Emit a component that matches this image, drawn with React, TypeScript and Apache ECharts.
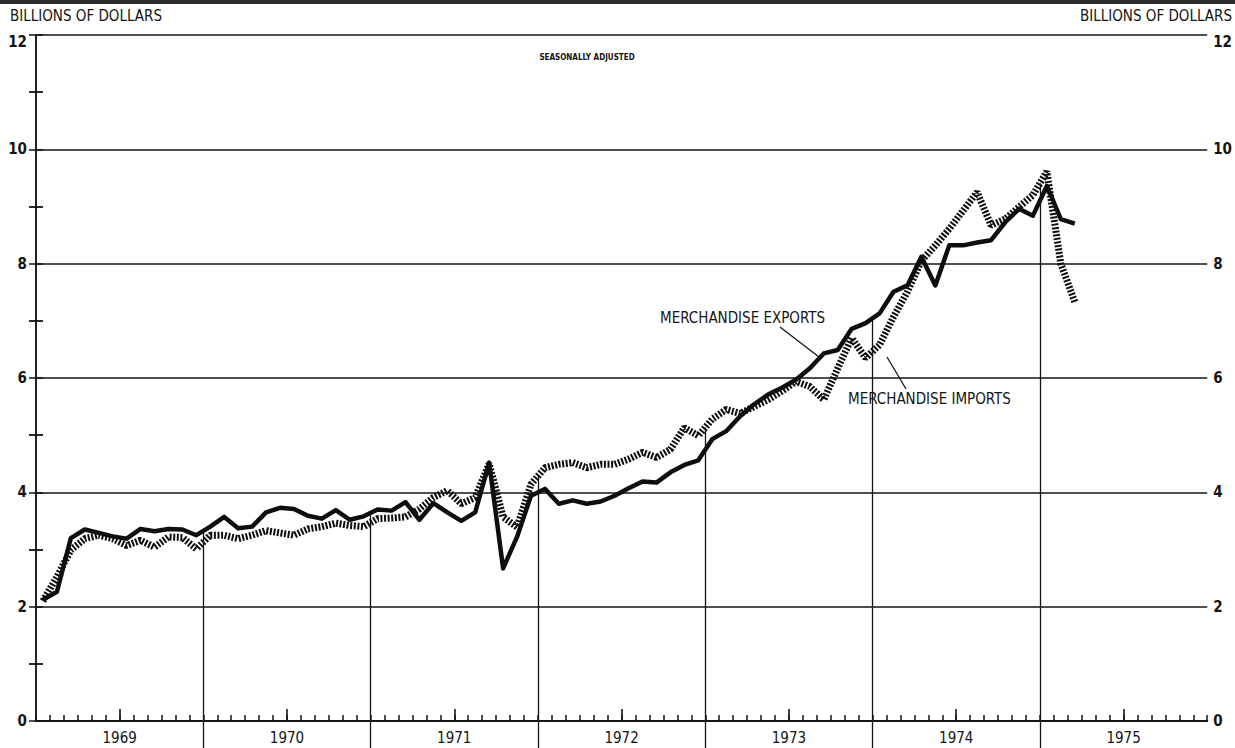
import React, { useEffect, useRef } from "react";
import * as echarts from "echarts";

// Monthly values, Jan 1969 – Mar 1975 (billions of dollars, seasonally adjusted)
const years = ["1969", "1970", "1971", "1972", "1973", "1974", "1975"];

const exportsValues = [
  2.12, 2.26, 3.2, 3.35, 3.29, 3.23, 3.19, 3.36, 3.32, 3.36, 3.35, 3.25,
  3.4, 3.57, 3.37, 3.4, 3.65, 3.73, 3.71, 3.59, 3.54, 3.69, 3.52, 3.58,
  3.7, 3.68, 3.83, 3.52, 3.81, 3.65, 3.5, 3.65, 4.52, 2.67, 3.22, 3.94,
  4.06, 3.8, 3.86, 3.8, 3.84, 3.94, 4.07, 4.19, 4.17, 4.35, 4.48, 4.56,
  4.93, 5.07, 5.33, 5.54, 5.71, 5.83, 5.97, 6.17, 6.43, 6.49, 6.86, 6.96,
  7.13, 7.51, 7.62, 8.12, 7.62, 8.32, 8.32, 8.37, 8.41, 8.72, 8.96, 8.84,
  9.36, 8.78, 8.7,
];

const importsValues = [
  2.1, 2.52, 2.99, 3.19, 3.25, 3.19, 3.07, 3.16, 3.04, 3.22, 3.21, 3.01,
  3.25, 3.25, 3.19, 3.25, 3.33, 3.29, 3.25, 3.36, 3.4, 3.46, 3.42, 3.4,
  3.54, 3.55, 3.57, 3.71, 3.91, 4.03, 3.8, 3.91, 4.5, 3.57, 3.39, 4.14,
  4.43, 4.49, 4.52, 4.43, 4.49, 4.49, 4.58, 4.7, 4.61, 4.75, 5.13, 4.99,
  5.28, 5.45, 5.38, 5.5, 5.62, 5.77, 5.94, 5.85, 5.62, 6.17, 6.7, 6.35,
  6.58, 7.07, 7.51, 8.05, 8.32, 8.61, 8.93, 9.25, 8.67, 8.78, 8.99, 9.2,
  9.61, 8.0, 7.33,
];

const yMin = 0;
const yMax = 12;
const yStep = 2;

const FONT = "'DejaVu Sans Condensed', 'DejaVu Sans', sans-serif";
const INK = "#141414";

export default function App() {
  const ref = useRef<HTMLDivElement>(null);

  useEffect(() => {
    if (!ref.current) return;
    const chart = echarts.init(ref.current, null, { renderer: "svg" });

    const months = years.length * 12;
    const toPts = (arr: number[]) => arr.map((v, i) => [i + 0.5, v]);

    const midYears = years.map((_, k) => k * 12 + 6);
    const boundaries = years.map((_, k) => (k + 1) * 12).filter((b) => b < months);

    const sepLines = boundaries
      .filter((b) => b < exportsValues.length)
      .map((b) => {
        const e = (exportsValues[b - 1] + exportsValues[b]) / 2;
        const m = (importsValues[b - 1] + importsValues[b]) / 2;
        const top = Math.max(e, m);
        return [{ coord: [b, 0] }, { coord: [b, top] }];
      });

    const yLabel = (side: "l" | "r") => ({
      fontFamily: FONT,
      fontSize: 15,
      fontWeight: "bold",
      color: INK,
      margin: side === "l" ? 9 : 6,
      formatter: (v: number) => (v === yMax ? `{t|${v}}` : `${v}`),
      rich: {
        t: { fontFamily: FONT, fontSize: 15, fontWeight: "bold", color: INK, padding: [14, 0, 0, 0] },
      },
    });

    const option: any = {
      animation: false,
      backgroundColor: "#ffffff",
      grid: { left: 36, right: 27, top: 35, bottom: 27, containLabel: false },
      xAxis: [
        {
          type: "value",
          min: 0,
          max: months,
          interval: 1,
          position: "bottom",
          axisLine: { show: true, lineStyle: { color: INK, width: 2.2 } },
          axisTick: { show: true, inside: true, length: 6, lineStyle: { color: INK, width: 1.5 } },
          axisLabel: {
            show: true,
            customValues: midYears,
            formatter: (v: number) => (v % 12 === 6 ? years[(v - 6) / 12] : ""),
            fontFamily: FONT,
            fontSize: 15,
            color: INK,
            margin: 9,
          },
          splitLine: { show: false },
        },
        {
          type: "value",
          min: 0,
          max: months,
          interval: 6,
          position: "bottom",
          axisLine: { show: false },
          axisTick: { show: true, inside: true, length: 12, customValues: midYears, lineStyle: { color: INK, width: 1.6 } },
          axisLabel: { show: false },
          splitLine: { show: false },
        },
        {
          type: "value",
          min: 0,
          max: months,
          interval: 12,
          position: "bottom",
          axisLine: { show: false },
          axisTick: { show: true, inside: false, length: 28, customValues: boundaries, lineStyle: { color: INK, width: 1.3 } },
          axisLabel: { show: false },
          splitLine: { show: false },
        },
      ],
      yAxis: [
        {
          type: "value",
          min: yMin,
          max: yMax,
          interval: yStep,
          position: "left",
          axisLine: { show: true, lineStyle: { color: INK, width: 1.5 } },
          axisTick: { show: true, inside: true, length: 7, lineStyle: { color: INK, width: 1.5 } },
          minorTick: { show: true, splitNumber: 2, length: 7, lineStyle: { color: INK, width: 1.8 } },
          axisLabel: yLabel("l"),
          splitLine: { show: true, lineStyle: { color: INK, width: 1.6 } },
        },
        {
          type: "value",
          min: yMin,
          max: yMax,
          interval: yStep,
          position: "right",
          axisLine: { show: true, lineStyle: { color: INK, width: 1.5 } },
          axisTick: { show: true, inside: true, length: 7, lineStyle: { color: INK, width: 1.5 } },
          minorTick: { show: true, splitNumber: 2, length: 7, lineStyle: { color: INK, width: 1.8 } },
          axisLabel: yLabel("r"),
          splitLine: { show: false },
        },
      ],
      series: [
        {
          name: "Merchandise imports",
          type: "line",
          data: toPts(importsValues),
          showSymbol: false,
          symbol: "none",
          z: 3,
          lineStyle: { color: "#0e0e0e", width: 7, type: [2, 1.6], cap: "butt" },
        },
        {
          name: "Merchandise exports",
          type: "line",
          data: toPts(exportsValues),
          showSymbol: false,
          symbol: "none",
          z: 4,
          lineStyle: { color: "#0e0e0e", width: 4.5, join: "round" },
          markLine: {
            silent: true,
            symbol: ["none", "none"],
            label: { show: false },
            lineStyle: { color: INK, width: 1.3, type: "solid" },
            data: sepLines,
          },
        },
      ],
      graphic: [
        { type: "rect", left: 0, top: 0, shape: { width: 1235, height: 4 }, style: { fill: "#2b2b2b" } },
        {
          type: "text",
          x: 10,
          y: 16,
          style: { text: "BILLIONS OF DOLLARS", font: `15px ${FONT}`, fill: INK, verticalAlign: "middle", align: "left" },
        },
        {
          type: "text",
          x: 1232,
          y: 16,
          style: { text: "BILLIONS OF DOLLARS", font: `15px ${FONT}`, fill: INK, verticalAlign: "middle", align: "right" },
        },
        {
          type: "text",
          x: 587,
          y: 57,
          style: { text: "SEASONALLY ADJUSTED", font: `bold 8px ${FONT}`, fill: INK, verticalAlign: "middle", align: "center" },
        },
        {
          type: "text",
          x: 660,
          y: 318,
          style: { text: "MERCHANDISE EXPORTS", font: `15px ${FONT}`, fill: INK, verticalAlign: "middle", align: "left" },
        },
        { type: "line", shape: { x1: 780, y1: 327, x2: 819, y2: 357 }, style: { stroke: INK, lineWidth: 1.3 } },
        {
          type: "text",
          x: 848,
          y: 399,
          style: { text: "MERCHANDISE IMPORTS", font: `15px ${FONT}`, fill: INK, verticalAlign: "middle", align: "left" },
        },
        { type: "line", shape: { x1: 906, y1: 389, x2: 887, y2: 357 }, style: { stroke: INK, lineWidth: 1.3 } },
      ],
    };

    chart.setOption(option);
    return () => chart.dispose();
  }, []);

  return (
    <div
      ref={ref}
      style={{ position: "absolute", left: 0, top: 0, width: 1235, height: 748, background: "#fff" }}
    />
  );
}
